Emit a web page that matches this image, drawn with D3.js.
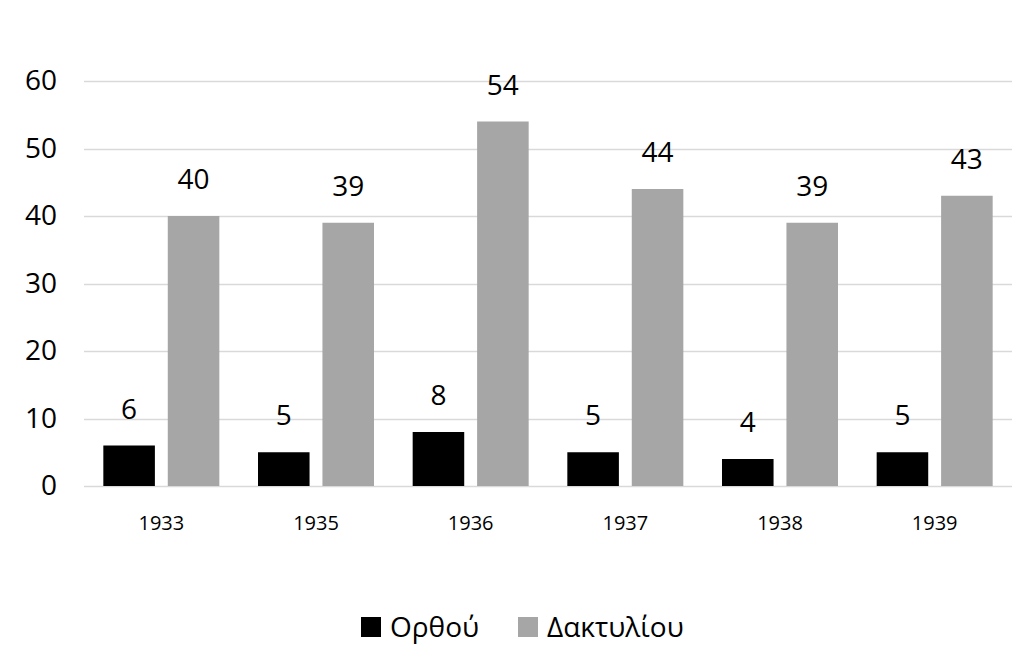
<!DOCTYPE html>
<html>
<head>
<meta charset="utf-8">
<script src="https://cdn.jsdelivr.net/npm/d3@7"></script>
<style>
  body { margin: 0; background: #fff; }
  svg { font-family: "Open Sans", "Noto Sans", sans-serif; }
</style>
</head>
<body>
<div id="chart"></div>
<script>
// chart values
const years = ["1933", "1935", "1936", "1937", "1938", "1939"];
const seriesNames = ["Ορθού", "Δακτυλίου"];
const orthou = [6, 5, 8, 5, 4, 5];
const daktyliou = [40, 39, 54, 44, 39, 43];
const yTicks = [0, 10, 20, 30, 40, 50, 60];
const colors = ["#000000", "#a6a6a6"];

const width = 1023;
const height = 660;
const margin = {left: 84, right: 11, top: 81, bottom: 174};

const svg = d3.select("#chart")
  .append("svg")
  .attr("width", width)
  .attr("height", height);

// scales
const yScale = d3.scaleLinear()
  .domain([0, 60])
  .range([height - margin.bottom, margin.top]);

const xScale = d3.scaleBand()
  .domain(years)
  .range([margin.left, width - margin.right]);

const xSub = d3.scaleBand()
  .domain(seriesNames)
  .range([0, xScale.bandwidth()])
  .paddingInner(0.2)
  .paddingOuter(0.3);

// gridlines
svg.append("g")
  .selectAll("line")
  .data(yTicks)
  .enter()
  .append("line")
    .attr("x1", margin.left)
    .attr("x2", width - margin.right)
    .attr("y1", d => Math.round(yScale(d)) + 0.5)
    .attr("y2", d => Math.round(yScale(d)) + 0.5)
    .attr("stroke", "#d9d9d9")
    .attr("stroke-width", 1.3);

// y axis labels
const yAxis = svg.append("g")
  .attr("transform", `translate(${margin.left - 27}, 0)`)
  .call(d3.axisLeft(yScale).tickValues(yTicks).tickSize(0).tickPadding(0));
yAxis.select(".domain").remove();
yAxis.selectAll("text")
  .attr("font-size", "28px")
  .attr("fill", "#000")
  .attr("font-family", "'Open Sans', sans-serif");

// x axis labels
const xAxis = svg.append("g")
  .attr("transform", `translate(0, ${height - margin.bottom})`)
  .call(d3.axisBottom(xScale).tickSize(0).tickPadding(30));
xAxis.select(".domain").remove();
xAxis.selectAll("text")
  .attr("font-size", "20px")
  .attr("fill", "#000")
  .attr("font-family", "'Open Sans', sans-serif");

// bars
const rows = years.map((y, i) => ({year: y, values: [orthou[i], daktyliou[i]]}));

const groups = svg.selectAll(".grp")
  .data(rows)
  .enter()
  .append("g")
    .attr("class", "grp")
    .attr("transform", d => `translate(${xScale(d.year)}, 0)`);

groups.selectAll("rect")
  .data(d => d.values.map((v, j) => ({name: seriesNames[j], value: v, j: j})))
  .enter()
  .append("rect")
    .attr("x", d => xSub(d.name))
    .attr("y", d => yScale(d.value))
    .attr("width", xSub.bandwidth())
    .attr("height", d => yScale(0) - yScale(d.value))
    .attr("fill", d => colors[d.j]);

// value labels
groups.selectAll(".val")
  .data(d => d.values.map((v, j) => ({name: seriesNames[j], value: v})))
  .enter()
  .append("text")
    .attr("class", "val")
    .attr("x", d => xSub(d.name) + xSub.bandwidth() / 2)
    .attr("y", d => yScale(d.value) - 27)
    .attr("text-anchor", "middle")
    .attr("font-size", "28px")
    .attr("fill", "#000")
    .text(d => d.value);

// legend
const legend = svg.append("g")
  .attr("transform", "translate(361, 617)");
const legendX = [0, 157];
seriesNames.forEach((name, i) => {
  legend.append("rect")
    .attr("x", legendX[i])
    .attr("y", 0)
    .attr("width", 20)
    .attr("height", 20)
    .attr("fill", colors[i]);
  legend.append("text")
    .attr("x", legendX[i] + 29)
    .attr("y", 20)
    .attr("font-size", "28px")
    .attr("fill", "#000")
    .text(name);
});
</script>
</body>
</html>
